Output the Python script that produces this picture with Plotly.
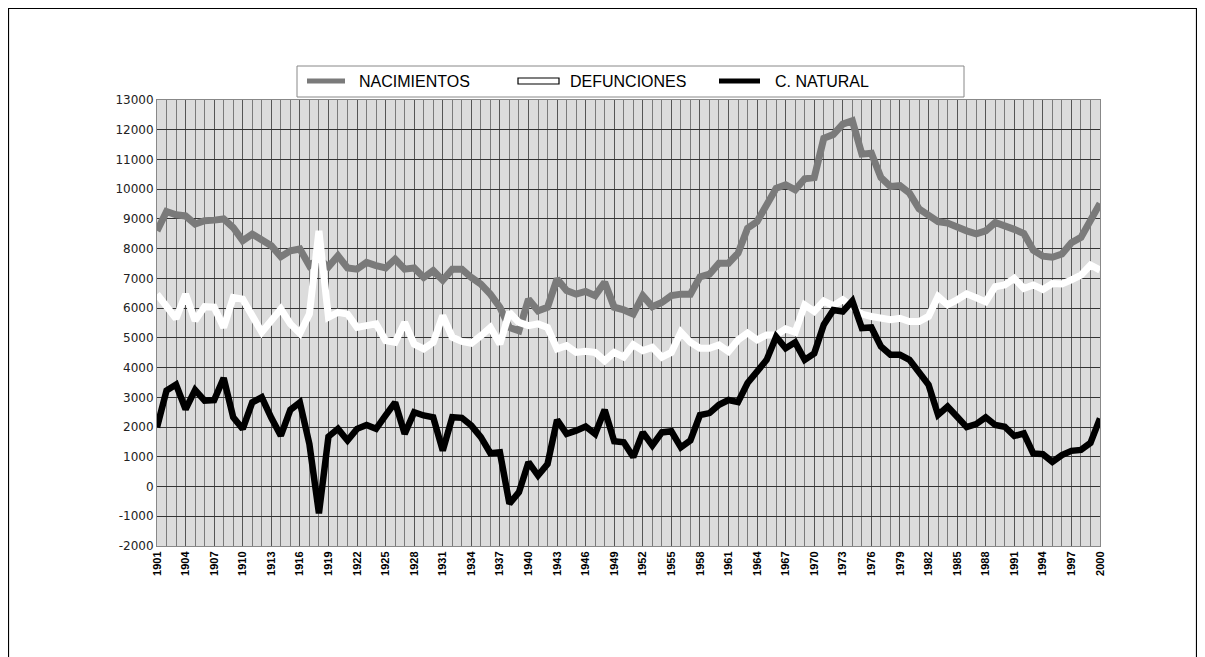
import plotly.graph_objects as go

years = list(range(1901, 2001))

nacimientos = [
    8600, 9250, 9140, 9100, 8830, 8940, 8960, 9000, 8710, 8270,
    8490, 8270, 8100, 7730, 7930, 7990, 7430, 7650, 7390, 7760,
    7350, 7310, 7540, 7430, 7350, 7650, 7310, 7350, 7030, 7260,
    6940, 7310, 7310, 7030, 6810, 6470, 6030, 5350, 5240, 6300,
    5910, 6030, 6980, 6590, 6470, 6560, 6420, 6870, 6030, 5940,
    5800, 6420, 6050, 6190, 6420, 6470, 6470, 7050, 7140, 7510,
    7510, 7850, 8690, 8910, 9420, 10030, 10150, 9980, 10350, 10390,
    11710, 11840, 12190, 12300, 11180, 11210, 10390, 10090, 10120, 9870,
    9340, 9110, 8910, 8860, 8710, 8600, 8500, 8600, 8880, 8790,
    8650, 8510, 7950, 7750, 7710, 7820, 8200, 8380, 8960, 9520,
]

defunciones = [
    6470, 6030, 5650, 6470, 5580, 6050, 6030, 5350, 6360, 6300,
    5690, 5190, 5580, 5970, 5470, 5150, 5800, 8600, 5690, 5860,
    5800, 5350, 5410, 5470, 4910, 4850, 5520, 4790, 4630, 4850,
    5750, 5020, 4880, 4820, 5070, 5350, 4790, 5860, 5520, 5410,
    5470, 5350, 4630, 4740, 4510, 4550, 4510, 4230, 4510, 4350,
    4770, 4570, 4680, 4350, 4510, 5190, 4850, 4650, 4650, 4760,
    4540, 4930, 5160, 4930, 5100, 5100, 5300, 5190, 6110, 5890,
    6240, 6080, 6280, 6050, 5800, 5720, 5660, 5610, 5660, 5550,
    5550, 5720, 6390, 6110, 6280, 6480, 6350, 6210, 6720, 6780,
    7000, 6660, 6780, 6630, 6830, 6810, 6950, 7110, 7450, 7280,
]

natural = [
    1990, 3230, 3430, 2600, 3250, 2890, 2910, 3650, 2330, 1940,
    2830, 3000, 2310, 1710, 2580, 2830, 1430, -900, 1680, 1940,
    1550, 1940, 2070, 1940, 2390, 2830, 1770, 2500, 2390, 2330,
    1210, 2330, 2310, 2050, 1660, 1120, 1150, -580, -190, 820,
    370, 760, 2240, 1770, 1880, 2020, 1770, 2580, 1520, 1490,
    990, 1820, 1380, 1820, 1860, 1320, 1550, 2400, 2470, 2750,
    2910, 2840, 3480, 3870, 4260, 5040, 4650, 4850, 4260, 4480,
    5440, 5940, 5890, 6240, 5330, 5350, 4710, 4430, 4430, 4260,
    3870, 3420, 2410, 2690, 2350, 2000, 2100, 2330, 2070, 2010,
    1700, 1790, 1110, 1090, 830, 1060, 1200, 1230, 1470, 2290,
]

tick_years = list(range(1901, 2001, 3))
tick_text = ["<b>%d</b>" % y for y in tick_years]
y_ticks = list(range(-2000, 13001, 1000))
y_text = [str(v) for v in y_ticks]

series_names = ["NACIMIENTOS", "DEFUNCIONES", "C. NATURAL"]

W, H = 1189, 649
L, R, T, B = 149, 1092, 92, 538  # plot area in figure pixels


def px(x):
    return (x - L) / (R - L)


def py(y):
    return (B - y) / (B - T)


fig = go.Figure()
fig.add_trace(go.Scatter(x=years, y=nacimientos, mode="lines",
                         line=dict(color="#7a7a7a", width=7), name=series_names[0]))
fig.add_trace(go.Scatter(x=years, y=defunciones, mode="lines",
                         line=dict(color="#ffffff", width=7), name=series_names[1]))
fig.add_trace(go.Scatter(x=years, y=natural, mode="lines",
                         line=dict(color="#000000", width=6.5), name=series_names[2]))

shapes = []
# outer frame
shapes.append(dict(type="rect", xref="paper", yref="paper",
                   x0=px(0.5), x1=px(1188.5), y0=py(700), y1=py(0.5),
                   line=dict(color="#000000", width=1.2), layer="below"))
# legend box
shapes.append(dict(type="rect", xref="paper", yref="paper",
                   x0=px(289), x1=px(956), y0=py(89), y1=py(58),
                   line=dict(color="#888888", width=1), fillcolor="#ffffff"))
# legend symbols
ly = py(73)
shapes.append(dict(type="line", xref="paper", yref="paper", x0=px(299), x1=px(337),
                   y0=ly, y1=ly, line=dict(color="#7a7a7a", width=5)))
shapes.append(dict(type="rect", xref="paper", yref="paper", x0=px(510), x1=px(551),
                   y0=py(76), y1=py(70), line=dict(color="#000000", width=1.2),
                   fillcolor="#ffffff"))
shapes.append(dict(type="line", xref="paper", yref="paper", x0=px(711), x1=px(752),
                   y0=ly, y1=ly, line=dict(color="#000000", width=5)))

annotations = []
for name, x0 in zip(series_names, [349, 560, 765]):
    annotations.append(dict(xref="paper", yref="paper", x=px(x0), y=ly,
                            xanchor="left", yanchor="middle", showarrow=False,
                            text=name,
                            font=dict(family="Liberation Sans, Arial", size=16, color="#000000")))

fig.update_layout(
    width=W, height=H,
    margin=dict(l=L, r=W - R, t=T, b=H - B, pad=0),
    paper_bgcolor="#ffffff",
    plot_bgcolor="#dcdcdc",
    showlegend=False,
    shapes=shapes,
    annotations=annotations,
    xaxis=dict(
        range=[1901, 2000],
        tickmode="array", tickvals=tick_years, ticktext=tick_text,
        tickangle=-90,
        tickfont=dict(family="Liberation Sans, Arial", size=11, color="#000000"),
        showgrid=True, gridcolor="#555555", gridwidth=1,
        minor=dict(dtick=1, tick0=1901, showgrid=True, gridcolor="#7a7a7a", gridwidth=1),
        showline=True, linecolor="#888888", linewidth=1, mirror=True,
        zeroline=False, ticks="",
    ),
    yaxis=dict(
        range=[-2000, 13000],
        tickmode="array", tickvals=y_ticks, ticktext=y_text,
        tickfont=dict(family="DejaVu Sans, Verdana", size=12, color="#222222"),
        showgrid=True, gridcolor="#333333", gridwidth=1,
        showline=True, linecolor="#888888", linewidth=1, mirror=True,
        zeroline=False, ticks="",
    ),
)

fig.write_html("out.html")
